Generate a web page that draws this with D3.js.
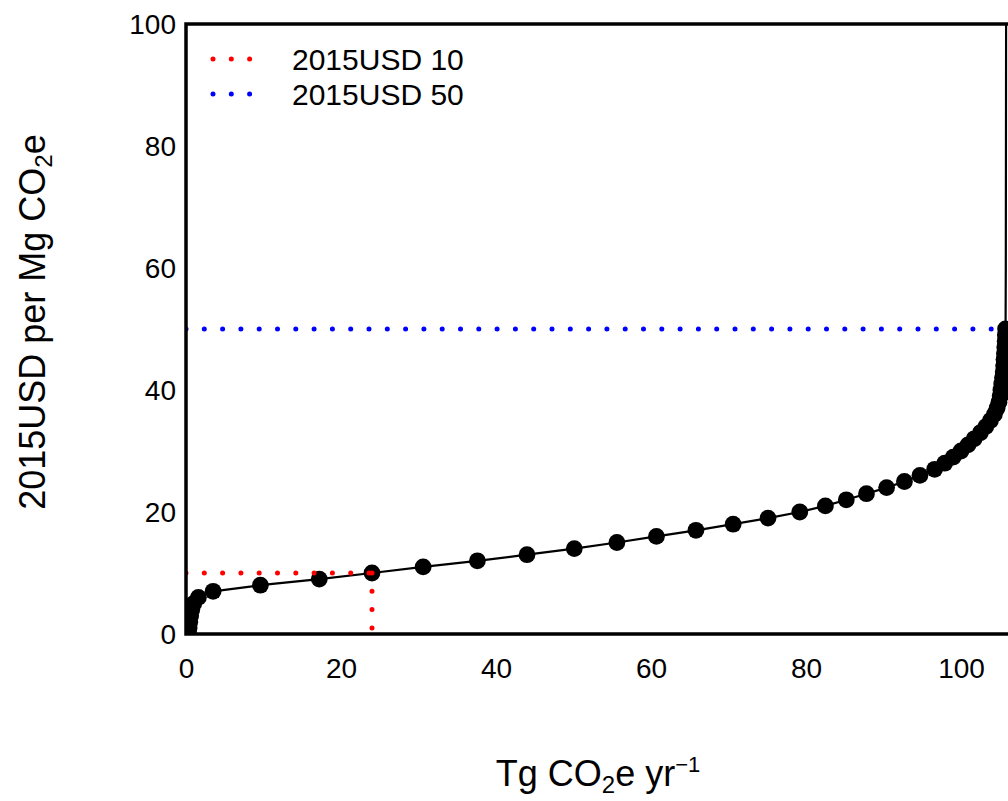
<!DOCTYPE html>
<html>
<head>
<meta charset="utf-8">
<script src="https://cdn.jsdelivr.net/npm/d3@7"></script>
<style>
  html, body { margin: 0; padding: 0; background: #fff; }
  svg { display: block; }
  text { font-family: "Liberation Sans", Arial, Helvetica, sans-serif; fill: #000; }
</style>
</head>
<body>
<svg id="chart" width="1008" height="801"></svg>
<script>
// ---- data (price in 2015USD per Mg CO2e, quantity in Tg CO2e/yr) ----
const markerPrice = [0, 1, 2, 3, 4, 5, 6, 7, 8, 9, 10, 11, 12, 13, 14, 15, 16, 17, 18, 19, 20,
  21, 22, 23, 24, 25, 26, 27, 28, 29, 30, 31, 32, 33, 34, 35, 36, 37, 38, 39, 40,
  41, 42, 43, 44, 45, 46, 47, 48, 49, 50];
const markerQty = [0.35, 0.4, 0.5, 0.6, 0.75, 1.0, 1.6, 3.5, 9.6, 17.2, 24.0, 30.6, 37.6, 44.0, 50.1, 55.6, 60.7, 65.8, 70.6, 75.1, 79.2,
  82.5, 85.2, 87.8, 90.4, 92.7, 94.7, 96.6, 97.9, 99.0, 100.0, 100.9, 101.7, 102.5, 103.2, 103.8, 104.3, 104.65, 104.9, 105.05, 105.15,
  105.25, 105.35, 105.45, 105.5, 105.55, 105.6, 105.65, 105.7, 105.72, 105.75];
const tailPrice = [60, 80, 100];
const tailQty = [105.78, 105.8, 105.82];

const refLabels = ["2015USD 10", "2015USD 50"];
const refPrices = [10, 50];
const refColors = ["#ff0000", "#0000ff"];
const refQtyAtPrice = [24.0, null];   // quantity where the 10 USD line drops to the axis

const xTicks = [0, 20, 40, 60, 80, 100];
const yTicks = [0, 20, 40, 60, 80, 100];
const xDomain = [0, 106];
const yDomain = [0, 100];

// ---- layout ----
const svg = d3.select("#chart");
const pL = 186, pT = 24, pB = 634;
const pR = 186 + 7.75 * 106;

const x = d3.scaleLinear().domain(xDomain).range([pL, pR]);
const y = d3.scaleLinear().domain(yDomain).range([pB, pT]);

svg.append("defs").append("clipPath").attr("id", "plotclip")
  .append("rect").attr("x", pL).attr("y", pT).attr("width", 1008 - pL).attr("height", pB - pT);

const plot = svg.append("g").attr("clip-path", "url(#plotclip)");

// curve line
const pts = markerPrice.map((p, i) => [markerQty[i], p])
  .concat(tailPrice.map((p, i) => [tailQty[i], p]));
plot.append("path")
  .attr("d", d3.line().x(d => x(d[0])).y(d => y(d[1]))(pts))
  .attr("fill", "none").attr("stroke", "#000").attr("stroke-width", 2.2);

// markers
plot.selectAll("circle.m").data(markerPrice).join("circle")
  .attr("class", "m")
  .attr("cx", (d, i) => x(markerQty[i]))
  .attr("cy", d => y(d))
  .attr("r", 8.4)
  .attr("fill", "#000");

// reference dotted lines
const dotted = sel => sel.attr("fill", "none").attr("stroke-width", 5)
  .attr("stroke-linecap", "round").attr("stroke-dasharray", "0 18.3");

// 10 USD: horizontal to curve, then down to axis
plot.append("path")
  .attr("d", d3.line()([[x(0), y(refPrices[0])], [x(refQtyAtPrice[0]), y(refPrices[0])]]))
  .attr("stroke", refColors[0]).call(dotted);
plot.append("path")
  .attr("d", d3.line()([[x(refQtyAtPrice[0]), y(refPrices[0])], [x(refQtyAtPrice[0]), y(0)]]))
  .attr("stroke", refColors[0]).call(dotted);
// 50 USD: horizontal across
plot.append("path")
  .attr("d", d3.line()([[x(0), y(refPrices[1])], [x(xDomain[1]), y(refPrices[1])]]))
  .attr("stroke", refColors[1]).call(dotted);

// frame (right side falls outside the picture)
svg.append("path")
  .attr("d", `M1015,${pT}H${pL}V${pB}H1015`)
  .attr("fill", "none").attr("stroke", "#000").attr("stroke-width", 3.5);

// axes (labels only, no tick marks)
const xAxis = d3.axisBottom(x).tickValues(xTicks).tickSize(0).tickPadding(0);
const gx = svg.append("g").attr("transform", `translate(0,${pB})`).call(xAxis);
gx.select(".domain").remove();
gx.selectAll("text").attr("font-size", 28).attr("dy", null).attr("y", 44)
  .style("font-family", "Liberation Sans, Arial, sans-serif");

const yAxis = d3.axisLeft(y).tickValues(yTicks).tickSize(0).tickPadding(0);
const gy = svg.append("g").attr("transform", `translate(${pL - 10},0)`).call(yAxis);
gy.select(".domain").remove();
gy.selectAll("text").attr("font-size", 28).attr("dy", "0.35em").attr("x", 0)
  .style("font-family", "Liberation Sans, Arial, sans-serif");

// axis titles
const xt = svg.append("text").attr("x", 598).attr("y", 786).attr("text-anchor", "middle")
  .attr("font-size", 36);
xt.append("tspan").text("Tg CO");
xt.append("tspan").text("2").attr("font-size", 24).attr("dy", 7);
xt.append("tspan").text("e yr").attr("dy", -7);
xt.append("tspan").text("\u22121").attr("font-size", 22).attr("dy", -14);

const yt = svg.append("text").attr("transform", "translate(45,322) rotate(-90)")
  .attr("text-anchor", "middle").attr("font-size", 36);
yt.append("tspan").text("2015USD per Mg CO");
yt.append("tspan").text("2").attr("font-size", 24).attr("dy", 7);
yt.append("tspan").text("e").attr("dy", -7);

// legend
const lg = svg.append("g");
refLabels.forEach((lab, i) => {
  const ly = 59 + i * 35;
  lg.append("path").attr("d", d3.line()([[213, ly], [250.6, ly]]))
    .attr("stroke", refColors[i]).call(dotted);
  lg.append("text").attr("x", 292).attr("y", ly + 11).attr("font-size", 30).text(lab);
});
</script>
</body>
</html>
